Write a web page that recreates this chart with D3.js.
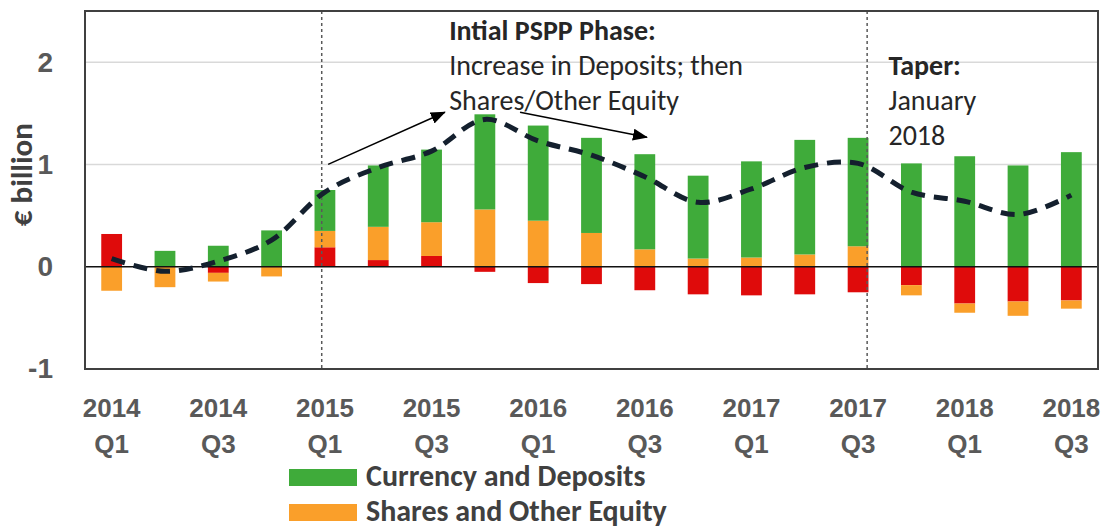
<!DOCTYPE html>
<head>
<meta charset="utf-8">
<title>PSPP Household Flows</title>
<script type="text/javascript" src="https://d3js.org/d3.v7.min.js"></script>
<style>
    body { margin: 0; background: #fff; }
    svg { font-family: Carlito, Lato, "Open Sans", sans-serif; }

    /* axis text */
    .axis text {
    fill: #595959;
    font-weight: bold;
    font-size: 26px;
    }
    .axis.y-axis text { font-size: 28px; }
    .axis path, .axis line { display: none; }

    .grid line {
    stroke: #d9d9d9;
    stroke-width: 1.5;
    }

    .frame {
    fill: none;
    stroke: #404040;
    stroke-width: 2;
    }

    .total-line {
    fill: none;
    stroke: #14202e;
    stroke-width: 5;
    stroke-dasharray: 14,9;
    }

    .marker {
    stroke: #595959;
    stroke-width: 1.5;
    stroke-dasharray: 3,3;
    }

    .note { fill: #262626; font-size: 28px; }
    .note-title { font-weight: bold; }
    .legend text { fill: #404040; font-weight: bold; font-size: 30px; }
</style>
</head>
<body>
<div id="container"></div>
<script>
//-----------------------------DATA-----------------------------//
var quarters = ["2014Q1","2014Q2","2014Q3","2014Q4",
                "2015Q1","2015Q2","2015Q3","2015Q4",
                "2016Q1","2016Q2","2016Q3","2016Q4",
                "2017Q1","2017Q2","2017Q3","2017Q4",
                "2018Q1","2018Q2","2018Q3"];

// red component (sits closest to zero)
var otherAssets = [0.32, 0, -0.06, 0, 0.19, 0.065, 0.105, -0.05,
                   -0.16, -0.17, -0.23, -0.27, -0.28, -0.27, -0.25,
                   -0.18, -0.36, -0.34, -0.33];
var sharesEquity = [-0.235, -0.20, -0.085, -0.095, 0.16, 0.325, 0.33, 0.56,
                    0.45, 0.33, 0.17, 0.08, 0.09, 0.12, 0.20,
                    -0.10, -0.09, -0.14, -0.08];
var currencyDeposits = [0, 0.155, 0.205, 0.355, 0.40, 0.60, 0.71, 0.93,
                        0.93, 0.93, 0.93, 0.81, 0.94, 1.12, 1.06,
                        1.01, 1.08, 0.99, 1.12];
// dashed line (net total)
var netTotal = [0.08, -0.045, 0.055, 0.26, 0.73, 0.97, 1.13, 1.44,
                1.23, 1.09, 0.88, 0.63, 0.76, 0.97, 1.01,
                0.73, 0.64, 0.51, 0.70];

var tickQuarters = ["2014Q1","2014Q3","2015Q1","2015Q3","2016Q1",
                    "2016Q3","2017Q1","2017Q3","2018Q1","2018Q3"];
var yTicks = [-1, 0, 1, 2];
var gridValues = [1, 2];

var seriesKeys = ["other", "shares", "deposits"];
var seriesColors = {other: "#df0b0b", shares: "#fa9f2a", deposits: "#3fab3a"};
var legendItems = [
    {key: "deposits", label: "Currency and Deposits"},
    {key: "shares", label: "Shares and Other Equity"}
];

// phase markers and notes (position as quarter index)
var markers = [3.94, 14.17];
var arrows = [
    {from: [4.06, 1.0], to: [6.25, 1.51]},
    {from: [7.66, 1.51], to: [10.04, 1.265]}
];
var notes = [
    {at: 6.33, lines: ["Intial PSPP Phase:", "Increase in Deposits; then", "Shares/Other Equity"], row: 0},
    {at: 14.57, lines: ["Taper:", "January", "2018"], row: 1}
];

//-----------------------------SVG------------------------------//
var width = 1106, height = 530;
var plot = {left: 85, right: 1098, top: 11, bottom: 369};

var svg = d3.select("div#container").append("svg")
    .attr("width", width)
    .attr("height", height);

var rows = quarters.map(function(q, i) {
    return {quarter: q, other: otherAssets[i], shares: sharesEquity[i], deposits: currencyDeposits[i]};
});

//----------------------------SCALES----------------------------//
var x = d3.scaleBand()
    .domain(quarters)
    .range([plot.left, plot.right])
    .paddingInner(0.61)
    .paddingOuter(0.305);

var y = d3.scaleLinear()
    .domain([-1, 2.5])
    .range([plot.bottom, plot.top]);

var xIdx = d3.scaleLinear()
    .domain([0, quarters.length - 1])
    .range([x(quarters[0]) + x.bandwidth() / 2, x(quarters[quarters.length - 1]) + x.bandwidth() / 2]);

//-----------------------------GRID-----------------------------//
svg.append("g").attr("class", "grid")
    .selectAll("line")
    .data(gridValues)
    .enter().append("line")
    .attr("x1", plot.left).attr("x2", plot.right)
    .attr("y1", function(d) { return y(d); })
    .attr("y2", function(d) { return y(d); });

//-----------------------------BARS-----------------------------//
var stacked = d3.stack()
    .keys(seriesKeys)
    .offset(d3.stackOffsetDiverging)(rows);

svg.append("g")
    .selectAll("g")
    .data(stacked)
    .enter().append("g")
    .attr("fill", function(d) { return seriesColors[d.key]; })
    .selectAll("rect")
    .data(function(d) { return d; })
    .enter().append("rect")
    .attr("x", function(d) { return x(d.data.quarter); })
    .attr("width", x.bandwidth())
    .attr("y", function(d) { return y(d[1]); })
    .attr("height", function(d) { return Math.abs(y(d[0]) - y(d[1])); });

// zero line
svg.append("line")
    .attr("x1", plot.left).attr("x2", plot.right)
    .attr("y1", y(0)).attr("y2", y(0))
    .attr("stroke", "#111")
    .attr("stroke-width", 1.5);

//----------------------------MARKERS---------------------------//
svg.selectAll(".marker")
    .data(markers)
    .enter().append("line")
    .attr("class", "marker")
    .attr("x1", function(d) { return xIdx(d); })
    .attr("x2", function(d) { return xIdx(d); })
    .attr("y1", plot.top).attr("y2", plot.bottom);

//----------------------------LINE------------------------------//
var valueline = d3.line()
    .x(function(d, i) { return x(quarters[i]) + x.bandwidth() / 2; })
    .y(function(d) { return y(d); })
    .curve(d3.curveCatmullRom);

svg.append("path")
    .datum(netTotal)
    .attr("class", "total-line")
    .attr("d", valueline);

//-----------------------------FRAME----------------------------//
svg.append("rect")
    .attr("class", "frame")
    .attr("x", plot.left)
    .attr("y", plot.top)
    .attr("width", plot.right - plot.left)
    .attr("height", plot.bottom - plot.top);

//-----------------------------AXES-----------------------------//
svg.append("g")
    .attr("class", "axis y-axis")
    .attr("transform", "translate(" + plot.left + ",0)")
    .call(d3.axisLeft(y).tickValues(yTicks).tickSize(0).tickPadding(32)
        .tickFormat(function(d) { return String(d); }));

var xa = svg.append("g")
    .attr("class", "axis")
    .attr("transform", "translate(0," + plot.bottom + ")")
    .call(d3.axisBottom(x).tickValues(tickQuarters).tickSize(0));

xa.selectAll("text")
    .attr("dy", null)
    .attr("y", null)
    .text(null)
    .each(function(q) {
        var t = d3.select(this);
        t.append("tspan").attr("x", 0).attr("y", 48).text(q.slice(0, 4));
        t.append("tspan").attr("x", 0).attr("y", 84).text(q.slice(4));
    });

svg.append("text")
    .attr("transform", "translate(32," + y(0.9) + ") rotate(-90)")
    .attr("text-anchor", "middle")
    .attr("fill", "#404040")
    .style("font-weight", "bold")
    .style("font-size", "31px")
    .text("€ billion");

//-----------------------------NOTES----------------------------//
svg.append("defs").append("marker")
    .attr("id", "head")
    .attr("viewBox", "0 0 15 12")
    .attr("refX", 14).attr("refY", 6)
    .attr("markerUnits", "userSpaceOnUse")
    .attr("markerWidth", 15).attr("markerHeight", 12)
    .attr("orient", "auto")
    .append("path")
    .attr("d", "M0,0L15,6L0,12Z")
    .attr("fill", "#000");

svg.selectAll(".arrow")
    .data(arrows)
    .enter().append("line")
    .attr("class", "arrow")
    .attr("x1", function(d) { return xIdx(d.from[0]); })
    .attr("y1", function(d) { return y(d.from[1]); })
    .attr("x2", function(d) { return xIdx(d.to[0]); })
    .attr("y2", function(d) { return y(d.to[1]); })
    .attr("stroke", "#000")
    .attr("stroke-width", 1.5)
    .attr("marker-end", "url(#head)");

notes.forEach(function(n) {
    var t = svg.append("text").attr("class", "note");
    n.lines.forEach(function(line, k) {
        t.append("tspan")
            .attr("x", xIdx(n.at))
            .attr("y", 40 + (k + n.row) * 35)
            .attr("class", k == 0 ? "note-title" : null)
            .text(line);
    });
});

//-----------------------------LEGEND---------------------------//
var legend = svg.append("g").attr("class", "legend")
    .selectAll("g")
    .data(legendItems)
    .enter().append("g")
    .attr("transform", function(d, i) { return "translate(289," + (469 + i * 35) + ")"; });

legend.append("rect")
    .attr("width", 68).attr("height", 17)
    .attr("fill", function(d) { return seriesColors[d.key]; });

legend.append("text")
    .attr("x", 77).attr("y", 17)
    .text(function(d) { return d.label; });
</script>
</body>
